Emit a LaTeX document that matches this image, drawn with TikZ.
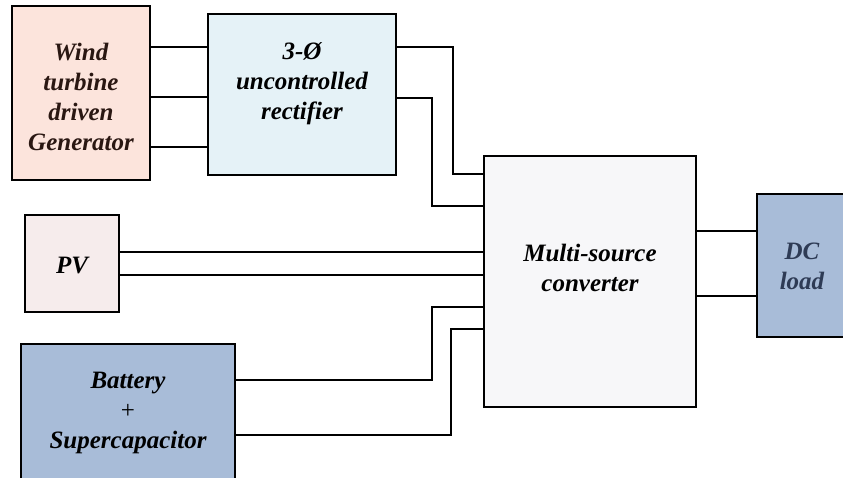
\documentclass[tikz,border=0pt]{standalone}
\usepackage{fontspec}
\setmainfont{Liberation Serif}
\begin{document}
\begin{tikzpicture}[x=1pt,y=-1pt,
  blk/.style={draw=black,line width=1.8pt},
  txt/.style={font=\fontsize{25}{30}\selectfont\bfseries\itshape,align=center,inner sep=0pt},
  wire/.style={line width=1.8pt}]
\definecolor{windc}{HTML}{FCE4DC}
\definecolor{rectc}{HTML}{E5F2F7}
\definecolor{pvc}{HTML}{F6ECEC}
\definecolor{batc}{HTML}{A8BCD8}
\definecolor{convc}{HTML}{F7F7F9}
\definecolor{loadtxt}{HTML}{2E3B55}
\definecolor{windtxt}{HTML}{2A1712}
\useasboundingbox (0,0) rectangle (843,477);
% boxes
\draw[blk,fill=windc] (12,6) rectangle (150,180);
\draw[blk,fill=rectc] (208,14) rectangle (396,175);
\draw[blk,fill=pvc] (25,215) rectangle (119,312);
\draw[blk,fill=batc] (21,344) rectangle (235,490);
\draw[blk,fill=convc] (484,156) rectangle (696,407);
\draw[blk,fill=batc] (757,194) rectangle (860,337);
% named anchors
\coordinate (wind) at (150,0);
\coordinate (rectW) at (208,0);
\coordinate (rectE) at (396,0);
\coordinate (pv) at (119,0);
\coordinate (bat) at (235,0);
\coordinate (convW) at (484,0);
\coordinate (convE) at (696,0);
\coordinate (load) at (757,0);
% texts
\node[txt,text=windtxt] (twind) at (81,97) {Wind\\turbine\\driven\\Generator};
\node[txt] (trect) at (302,84) {3-Ø\\uncontrolled\\rectifier};
\node[txt] (tpv) at (72,265) {PV};
\node[txt] (tbat) at (128,413) {Battery\\{\normalfont\fontsize{25}{30}\selectfont +}\\Supercapacitor};
\node[txt] (tconv) at (590,268) {Multi-source\\converter};
\node[txt,text=loadtxt] (tload) at (802,266) {DC\\load};
% wires
\foreach \y in {47,97,147} \draw[wire] (wind |- 0,\y) -- (rectW |- 0,\y);
\draw[wire] (rectE |- 0,47) -| (453,174) -- (convW |- 0,174);
\draw[wire] (rectE |- 0,98) -| (432,206) -- (convW |- 0,206);
\draw[wire] (pv |- 0,252) -- (convW |- 0,252);
\draw[wire] (pv |- 0,275) -- (convW |- 0,275);
\draw[wire] (bat |- 0,380) -| (432,307) -- (convW |- 0,307);
\draw[wire] (bat |- 0,435) -| (451,329) -- (convW |- 0,329);
\draw[wire] (convE |- 0,231) -- (load |- 0,231);
\draw[wire] (convE |- 0,296) -- (load |- 0,296);
\end{tikzpicture}
\end{document}
